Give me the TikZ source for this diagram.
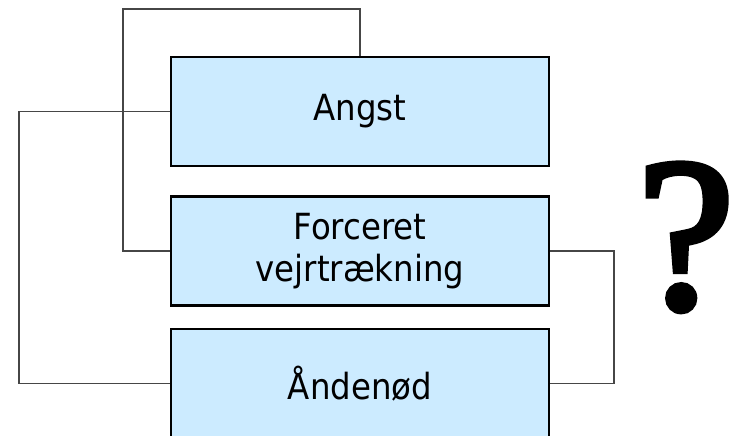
\documentclass[tikz,border=0pt]{standalone}
\usepackage{fontspec}
\setmainfont{DejaVu Sans Condensed}
\newfontfamily\qfont[FakeBold=3]{Liberation Serif}
\definecolor{boxblue}{RGB}{204,235,255}
\definecolor{linegray}{RGB}{70,70,70}

\tikzset{
    symbox/.style={draw=black, line width=2.6pt, fill=boxblue,
        minimum width=378pt, minimum height=109pt, align=center,
        font=\fontsize{36}{42}\selectfont},
    link/.style={draw=linegray, line width=1.3pt}
}

\begin{document}
\begin{tikzpicture}[x=1pt,y=-1pt]

% Frame
\useasboundingbox (0,0) rectangle (734,436);

% ===== Boxes =====
\node[symbox] (angst) at (360,111.5) {Angst};
\node[symbox] (forceret) at (360,251) {Forceret\\vejrtrækning};
\node[symbox] (andenod) at (360,383.5) {Åndenød};

% Bend points
\coordinate (topleft) at (123,9);
\coordinate (farleft) at (19,111.5);
\coordinate (right) at (614,251);

% ===== Connectors =====
\draw[link] (forceret.west) -| (topleft) -| (angst.north);
\draw[link] (andenod.west) -| (farleft) -- (angst.west);
\draw[link] (forceret.east) -- (right) |- (andenod.east);

% Question mark
\node[inner sep=0pt, text height=150pt, text depth=0pt, anchor=base,
    font=\qfont\fontsize{218}{218}\selectfont] (quest) at (686,308) {?};

\end{tikzpicture}
\end{document}
